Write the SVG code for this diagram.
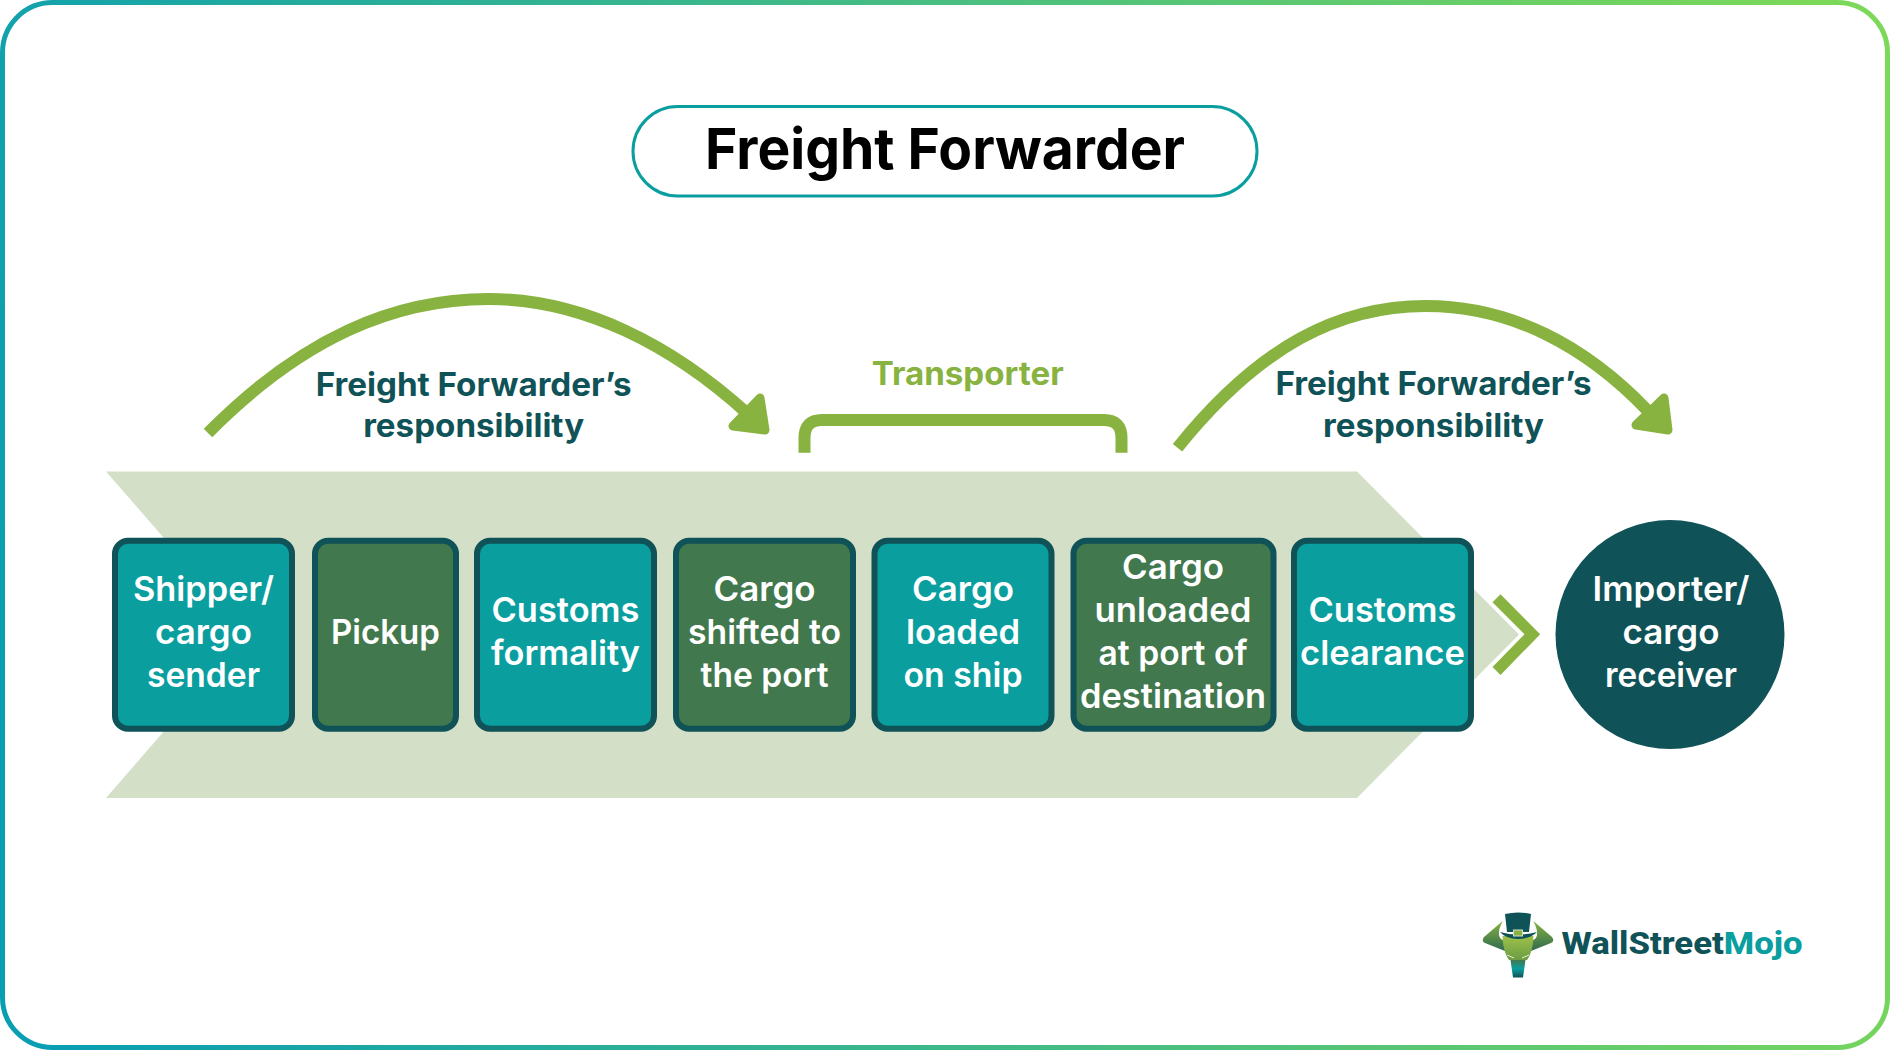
<svg xmlns="http://www.w3.org/2000/svg" width="1890" height="1050" viewBox="0 0 1890 1050">
<defs>
<linearGradient id="border" gradientUnits="userSpaceOnUse" x1="0" y1="700" x2="1890" y2="350"><stop offset="0" stop-color="#0a9eb2"/><stop offset="1" stop-color="#7cd858"/></linearGradient>
<linearGradient id="horn" x1="0" y1="0" x2="0" y2="1"><stop offset="0" stop-color="#88b340"/><stop offset="1" stop-color="#2f6a50"/></linearGradient>
<linearGradient id="snout" x1="0" y1="0" x2="0" y2="1"><stop offset="0" stop-color="#41784d"/><stop offset="0.5" stop-color="#0a9e9f"/><stop offset="1" stop-color="#0f5257"/></linearGradient>
<linearGradient id="head" x1="0" y1="0" x2="0" y2="1"><stop offset="0" stop-color="#9cc04a"/><stop offset="1" stop-color="#6c9c44"/></linearGradient>
</defs>
<style>
text{font-family:"Inter","Open Sans","Liberation Sans",sans-serif;text-anchor:middle}
.box{stroke:#0f5257;stroke-width:6}
.teal{fill:#0a9e9f}
.moss{fill:#41784d}
.w{fill:#fff;font-size:34px;font-weight:600}
.lab{fill:#0f5257;font-size:32px;font-weight:700}
.line{fill:none;stroke:#88b340;stroke-width:12}
.head{fill:#88b340;stroke:#88b340;stroke-width:9;stroke-linejoin:round}
</style>
<rect width="1890" height="1050" fill="#fff"/>
<rect x="2.500" y="2.500" width="1885" height="1045" rx="50" fill="#fff" stroke="url(#border)" stroke-width="5"/>
<g id="title">
<rect x="633" y="106.500" width="624" height="89.500" rx="44.700" fill="#fff" stroke="#0a9e9f" stroke-width="3"/>
<text x="945" y="169" font-size="57" font-weight="700" fill="#000" textLength="480" lengthAdjust="spacingAndGlyphs">Freight Forwarder</text>
</g>
<g id="band">
<polygon points="106,471.500 1357,471.500 1519,634.500 1357,798 106,798 248,634.500" fill="#d3dfc6"/>
</g>
<g id="connectors">
<path class="line" d="M208,433C302,338 394,299 489,299C583,299 672,345 748,414"/>
<path class="head" d="M760,398L765,430L733,426Z"/>
<path class="line" d="M804.500,452.700V438Q804.500,420 822,420H1104Q1121.500,420 1121.500,438V452.700"/>
<path class="line" d="M1177.500,447.700C1260,345 1340,306 1426,306C1510,306 1585,345 1648,411"/>
<path class="head" d="M1664,398L1668,430L1636,425Z"/>
<polygon points="1500.500,594.300 1540.200,634.300 1500.500,675 1492.500,667 1524.500,634.300 1492.500,602.300" fill="#88b340"/>
</g>
<g id="label-ff1" class="lab"><text x="473.700" y="396" textLength="316" lengthAdjust="spacingAndGlyphs">Freight Forwarder’s</text><text x="473.700" y="437" textLength="221" lengthAdjust="spacingAndGlyphs">responsibility</text></g>
<g id="label-transporter"><text class="lab" style="fill:#88b340" x="967.700" y="385" textLength="192" lengthAdjust="spacingAndGlyphs">Transporter</text></g>
<g id="label-ff2" class="lab"><text x="1433.500" y="395" textLength="316" lengthAdjust="spacingAndGlyphs">Freight Forwarder’s</text><text x="1433.500" y="437" textLength="221" lengthAdjust="spacingAndGlyphs">responsibility</text></g>
<g id="node-shipper"><rect class="box teal" x="115" y="540.700" width="177" height="188" rx="13"/><g class="w"><text x="203.500" y="601" textLength="141" lengthAdjust="spacingAndGlyphs">Shipper/</text><text x="203.500" y="644" textLength="97" lengthAdjust="spacingAndGlyphs">cargo</text><text x="203.500" y="687" textLength="113" lengthAdjust="spacingAndGlyphs">sender</text></g></g>
<g id="node-pickup"><rect class="box moss" x="315" y="540.700" width="141" height="188" rx="13"/><g class="w"><text x="385.500" y="644" textLength="109" lengthAdjust="spacingAndGlyphs">Pickup</text></g></g>
<g id="node-customs"><rect class="box teal" x="477" y="540.700" width="177" height="188" rx="13"/><g class="w"><text x="565.500" y="622" textLength="148" lengthAdjust="spacingAndGlyphs">Customs</text><text x="565.500" y="665" textLength="149" lengthAdjust="spacingAndGlyphs">formality</text></g></g>
<g id="node-shifted"><rect class="box moss" x="676" y="540.700" width="177" height="188" rx="13"/><g class="w"><text x="764.500" y="601" textLength="102" lengthAdjust="spacingAndGlyphs">Cargo</text><text x="764.500" y="644" textLength="153" lengthAdjust="spacingAndGlyphs">shifted to</text><text x="764.500" y="687" textLength="128" lengthAdjust="spacingAndGlyphs">the port</text></g></g>
<g id="node-loaded"><rect class="box teal" x="874.500" y="540.700" width="177" height="188" rx="13"/><g class="w"><text x="963" y="601" textLength="102" lengthAdjust="spacingAndGlyphs">Cargo</text><text x="963" y="644" textLength="114" lengthAdjust="spacingAndGlyphs">loaded</text><text x="963" y="687" textLength="119" lengthAdjust="spacingAndGlyphs">on ship</text></g></g>
<g id="node-unloaded"><rect class="box moss" x="1073.500" y="540.700" width="200" height="188" rx="13"/><g class="w"><text x="1173" y="579" textLength="102" lengthAdjust="spacingAndGlyphs">Cargo</text><text x="1173" y="622" textLength="157" lengthAdjust="spacingAndGlyphs">unloaded</text><text x="1173" y="665" textLength="149" lengthAdjust="spacingAndGlyphs">at port of</text><text x="1173" y="708" textLength="186" lengthAdjust="spacingAndGlyphs">destination</text></g></g>
<g id="node-clearance"><rect class="box teal" x="1294" y="540.700" width="177" height="188" rx="13"/><g class="w"><text x="1382.500" y="622" textLength="148" lengthAdjust="spacingAndGlyphs">Customs</text><text x="1382.500" y="665" textLength="165" lengthAdjust="spacingAndGlyphs">clearance</text></g></g>
<g id="node-importer"><circle cx="1670" cy="634.500" r="114.500" fill="#0f5257"/><g class="w"><text x="1671" y="601" textLength="157" lengthAdjust="spacingAndGlyphs">Importer/</text><text x="1671" y="644" textLength="97" lengthAdjust="spacingAndGlyphs">cargo</text><text x="1671" y="687" textLength="132" lengthAdjust="spacingAndGlyphs">receiver</text></g></g>
<g id="logo">
<path d="M1502.700,921L1484,937Q1481,941 1485,943L1505,951V941Q1494,938 1502.700,921Z" fill="url(#horn)"/>
<path d="M1533.300,921L1552,937Q1555,941 1551,943L1531,951V941Q1542,938 1533.300,921Z" fill="url(#horn)"/>
<path d="M1502.500,936H1533.500Q1533,952 1527,960H1509Q1503,952 1502.500,936Z" fill="url(#head)"/>
<path d="M1510.500,960H1525.500L1523,977.500H1513Z" fill="url(#snout)"/>
<path d="M1505,914Q1518,911 1531,914L1529,932H1507Z" fill="#0f5257"/>
<path d="M1500,932Q1518,937 1537,932Q1530,939 1518,939Q1506,939 1500,932Z" fill="#0f5257"/>
<rect x="1513.500" y="930" width="9" height="6" fill="#88b340" stroke="#d3dfc6" stroke-width="1"/>
<path d="M1507,955L1514,958M1529,955L1522,958" stroke="#e6efd8" stroke-width="1" fill="none"/>
<text x="1682" y="954" font-size="31" font-weight="800" style="font-family:Roboto,'Liberation Sans',sans-serif" textLength="241" lengthAdjust="spacingAndGlyphs"><tspan fill="#0f5257">WallStreet</tspan><tspan fill="#0a9e9f">Mojo</tspan></text>
</g>
</svg>
